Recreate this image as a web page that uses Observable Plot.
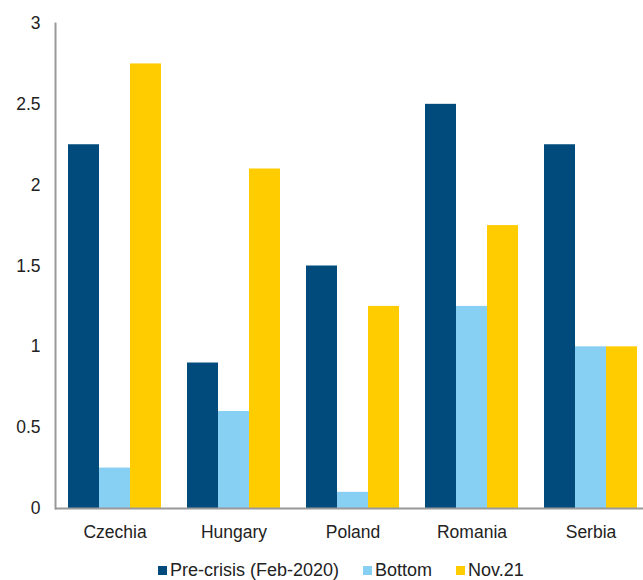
<!DOCTYPE html>
<html>
<head>
<meta charset="utf-8">
<script src="https://cdn.jsdelivr.net/npm/d3@7"></script>
<script src="https://cdn.jsdelivr.net/npm/@observablehq/plot@0.6"></script>
<style>
  html, body { margin: 0; padding: 0; background: #fff; overflow: hidden; }
  #wrap { width: 643px; height: 580px; position: relative; font-family: "Liberation Sans", Arial, sans-serif; }
  .legend { position: absolute; left: 158px; top: 560px; display: flex; align-items: center; font-size: 18px; color: #222; line-height: 20px; }
  .legend .item { display: flex; align-items: center; margin-right: 24px; }
  .legend .sw { width: 9px; height: 9px; margin-right: 3px; }
</style>
</head>
<body>
<div id="wrap"></div>
<script>
const countries = ["Czechia", "Hungary", "Poland", "Romania", "Serbia"];
const seriesNames = ["Pre-crisis (Feb-2020)", "Bottom", "Nov.21"];
const preCrisis = [2.25, 0.9, 1.5, 2.5, 2.25];
const bottom = [0.25, 0.6, 0.1, 1.25, 1.0];
const nov21 = [2.75, 2.1, 1.25, 1.75, 1.0];
const colors = ["#004A7C", "#87CFF3", "#FFCC00"];
const yTicks = [0, 0.5, 1, 1.5, 2, 2.5, 3];

const seriesValues = [preCrisis, bottom, nov21];
const data = [];
countries.forEach((c, i) => {
  seriesNames.forEach((s, j) => data.push({country: c, series: s, value: seriesValues[j][i]}));
});

const chart = Plot.plot({
  width: 643,
  height: 550,
  marginTop: 23,
  marginBottom: 42,
  marginLeft: 53,
  marginRight: 0,
  style: {fontFamily: "Liberation Sans, Arial, sans-serif", fontSize: "17.5px", color: "#222", background: "#fff"},
  fx: {domain: countries, range: [53, 652], paddingInner: 0, paddingOuter: 0, axis: "bottom", tickSize: 0, tickPadding: 17, label: null},
  x: {domain: seriesNames, paddingInner: 0, paddingOuter: 0.41, axis: null},
  y: {domain: [0, 3], ticks: yTicks, tickFormat: d3.format("~g"), tickSize: 0, tickPadding: 15, label: null},
  color: {domain: seriesNames, range: colors},
  marks: [
    Plot.barY(data, {fx: "country", x: "series", y: "value", fill: "series"}),
    Plot.frame({anchor: "left", facetAnchor: "left", stroke: "#999", strokeWidth: 2}),
    Plot.ruleY([0], {stroke: "#999", strokeWidth: 2})
  ]
});
document.getElementById("wrap").appendChild(chart);

const legend = document.createElement("div");
legend.className = "legend";
seriesNames.forEach((s, j) => {
  const item = document.createElement("div");
  item.className = "item";
  const sw = document.createElement("div");
  sw.className = "sw";
  sw.style.background = colors[j];
  const t = document.createElement("span");
  t.textContent = s;
  item.appendChild(sw);
  item.appendChild(t);
  legend.appendChild(item);
});
document.getElementById("wrap").appendChild(legend);
</script>
</body>
</html>
